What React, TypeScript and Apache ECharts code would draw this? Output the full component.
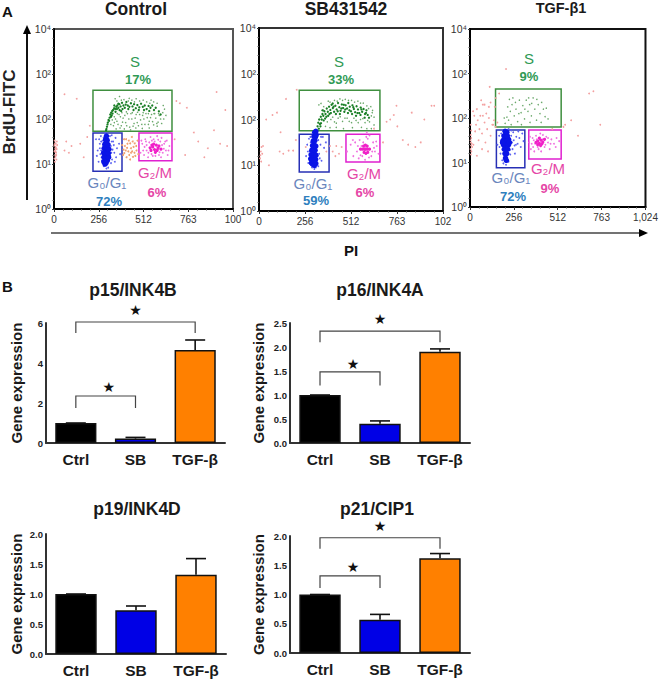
import React, { useEffect, useRef } from "react";
import * as echarts from "echarts";

type P = number[];

const flowXLabels: string[][] = [
  ["0", "256", "512", "763", "100"],
  ["0", "256", "512", "763", "102"],
  ["0", "256", "512", "763", "1,024"],
];
const flowYLabels = ["10⁰", "10¹", "10²", "10²", "10⁴"];
const flowTitles = ["Control", "SB431542", "TGF-β1"];

// gates as [x0, y0, x1, y1] in instrument units
const controlGates = { s: [223, 1.73, 675, 2.64], g0: [223, 0.84, 389, 1.69], g2: [486, 1.07, 675, 1.69] };
const sbGates = { s: [224, 1.755, 673, 2.64], g0: [224, 0.85, 390, 1.68], g2: [484, 1.07, 673, 1.68] };
const tgfGates = { s: [149, 1.8, 532, 2.65], g0: [154, 0.88, 320, 1.73], g2: [343, 1.08, 532, 1.73] };

const controlRed: P[] = [[5,1.3],[8,1.38],[12,1.25],[6,1.2],[10,1.45],[15,1.33],[4,1.52],[9,1.16],[18,1.42],[3,1.28],[14,1.1],[7,1.34],[2,1.42],[11,1.36],[6,1.46],[13,1.2],[3,1.12],[9,1.27],[16,1.5],[5,1.05],[60,1.3],[85,1.25],[100,1.4],[70,1.5],[170,1.15],[190,1.6],[205,1.85],[130,2.45],[60,2.55],[690,1.55],[720,2.35],[750,1.2],[800,1.7],[825,1.5],[880,1.35],[950,1.45],[980,2.2],[990,1.4],[930,2.6],[700,2.4],[760,2.25],[860,1.15],[915,1.75],[150,1.45]];
const controlOrange: P[] = [[400,1.55],[410,1.3],[420,1.45],[430,1.2],[440,1.35],[450,1.5],[460,1.25],[470,1.4],[415,1.15],[405,1.4],[445,1.6],[435,1.1],[455,1.38],[425,1.28],[465,1.18],[412,1.55],[395,1.2],[478,1.52],[390,1.42],[440,1.25],[428,1.52],[452,1.16],[402,1.24],[472,1.3],[418,1.36],[436,1.46],[462,1.46],[398,1.32],[447,1.28],[482,1.22]];
const controlGreenDark: P[] = [[298,1.75],[303,1.83],[308,1.92],[312,1.98],[318,2.03],[322,2.1],[327,2.14],[333,2.18],[338,2.2],[344,2.24],[350,2.22],[356,2.27],[362,2.3],[368,2.25],[374,2.33],[381,2.28],[389,2.36],[397,2.3],[405,2.25],[414,2.38],[422,2.3],[431,2.27],[440,2.35],[449,2.28],[458,2.33],[468,2.24],[477,2.31],[488,2.26],[498,2.34],[508,2.27],[519,2.3],[530,2.22],[541,2.29],[552,2.25],[562,2.3],[572,2.2],[582,2.25],[345,2.3],[360,2.22],[375,2.2],[335,2.12],[326,2.05],[392,2.22],[425,2.22],[455,2.2],[485,2.2],[515,2.2],[545,2.18],[600,2.17],[610,2.1],[300,1.78],[306,1.88],[315,1.96],[330,2.08],[352,2.16],[368,2.34],[384,2.18],[410,2.32]];
const controlGreenLight: P[] = [[345,2.05],[360,1.95],[372,2.1],[385,1.85],[395,2.02],[410,1.92],[420,2.12],[433,1.82],[445,2.0],[458,1.9],[470,2.1],[483,1.85],[495,1.98],[507,2.08],[520,1.88],[533,2.03],[545,1.95],[558,2.1],[570,1.87],[582,2.02],[595,1.93],[610,2.0],[622,2.14],[632,2.22],[640,2.08],[340,1.85],[355,1.78],[378,1.8],[402,1.78],[438,1.76],[468,1.8],[505,1.79],[545,1.8],[590,1.84],[350,2.45],[375,2.5],[400,2.43],[430,2.46],[470,2.45],[510,2.42],[555,2.42],[590,2.35],[625,2.3],[360,2.4],[445,2.42],[490,2.4],[530,2.38],[570,2.38],[325,1.88],[333,1.98],[352,2.0],[366,1.88],[380,2.05],[392,1.93],[405,2.08],[416,1.85],[428,2.0],[440,2.12],[452,1.84],[464,2.02],[476,1.92],[490,2.1],[502,1.88],[514,2.0],[526,2.12],[540,1.88],[552,2.03],[564,1.94],[576,2.12],[588,1.9],[602,2.08],[616,1.9],[628,2.0],[345,1.92],[362,2.12],[388,2.14],[414,2.16],[448,2.14],[478,2.15],[510,2.14],[540,2.12],[572,2.12],[598,2.12],[425,2.4],[385,2.42],[460,2.38],[548,2.35]];
const controlBlue: P[] = [[240,1.55],[250,1.3],[255,1.05],[262,1.45],[268,1.62],[272,1.15],[276,1.35],[280,1.52],[285,0.95],[288,1.6],[292,1.68],[320,1.62],[325,1.4],[332,1.1],[338,1.5],[345,1.25],[352,1.58],[360,1.35],[372,1.45],[245,1.18],[258,1.55],[265,1.22],[335,1.32],[348,1.05],[378,1.22],[310,0.92],[300,0.9],[295,1.66],[330,1.64],[355,1.15],[270,1.3],[262,1.35],[275,1.08],[278,1.22],[270,1.5],[328,1.25],[330,1.5],[342,1.42],[322,1.18],[326,1.02],[312,1.52],[316,1.44],[282,1.42],[284,1.58],[300,0.98]];
const controlBlueCore: P[] = [[285,1.05],[292,1.0],[298,1.03],[305,1.08],[286,1.15],[295,1.15],[304,1.17],[312,1.15],[284,1.25],[293,1.25],[302,1.27],[311,1.24],[288,1.35],[297,1.36],[306,1.35],[314,1.33],[291,1.44],[300,1.46],[309,1.43],[295,1.54],[304,1.53],[300,1.62]];
const controlMagenta: P[] = [[495,1.25],[505,1.45],[515,1.2],[522,1.55],[530,1.3],[538,1.15],[545,1.48],[552,1.6],[558,1.22],[565,1.18],[600,1.2],[608,1.5],[615,1.58],[622,1.25],[630,1.45],[640,1.3],[650,1.2],[660,1.4],[530,1.42],[518,1.38],[570,1.55],[590,1.62],[645,1.52],[612,1.15],[500,1.52],[540,1.25],[548,1.36],[526,1.5],[560,1.52],[580,1.18],[628,1.34],[636,1.5],[618,1.42],[596,1.54],[576,1.5],[510,1.3],[655,1.3],[604,1.26]];
const controlMagentaCore: P[] = [[555,1.3],[565,1.38],[575,1.32],[585,1.42],[595,1.35],[560,1.42],[580,1.26],[590,1.3],[570,1.44],[600,1.4],[550,1.36],[612,1.33]];

const sbRed: P[] = [[6,1.15],[10,1.3],[14,1.4],[18,1.25],[8,1.22],[22,1.42],[12,1.08],[55,1.0],[75,2.1],[100,2.15],[40,2.0],[120,1.72],[115,1.3],[135,1.25],[165,1.32],[190,1.32],[205,1.55],[150,2.45],[210,2.65],[260,1.4],[375,1.3],[410,1.3],[430,1.42],[445,1.25],[395,1.42],[425,1.2],[460,1.4],[690,1.5],[710,1.95],[730,2.0],[750,2.1],[770,1.85],[800,1.55],[830,1.45],[870,1.4],[900,1.5],[920,2.0],[960,2.3],[975,2.3],[850,2.15],[765,2.3],[640,1.8]];
const sbGreenDark: P[] = [[322,1.76],[326,1.85],[330,1.93],[335,2.0],[339,1.9],[344,2.06],[349,2.0],[353,2.12],[358,2.08],[364,2.18],[370,2.12],[377,2.24],[383,2.17],[390,2.28],[397,2.21],[404,2.32],[411,2.25],[418,2.17],[425,2.3],[432,2.22],[440,2.36],[447,2.27],[454,2.19],[461,2.33],[468,2.25],[475,2.17],[482,2.31],[490,2.24],[497,2.36],[505,2.28],[512,2.18],[520,2.31],[528,2.23],[535,2.16],[543,2.29],[551,2.22],[558,2.14],[566,2.26],[574,2.17],[582,2.23],[590,2.12],[598,2.2],[605,2.1],[612,2.04],[345,1.92],[360,1.98],[375,2.06],[392,2.12],[410,2.35],[428,2.12],[450,2.12],[472,2.32],[495,2.14],[518,2.12],[540,2.08],[565,2.1],[588,2.04],[333,1.8],[342,1.85],[355,2.2],[368,2.02],[385,2.08],[400,2.14],[415,2.28],[438,2.18],[458,2.24],[480,2.22],[503,2.2],[525,2.27],[548,2.14],[570,2.22],[595,2.14]];
const sbGreenLight: P[] = [[400,2.0],[420,1.95],[440,2.03],[465,1.96],[490,2.03],[515,1.93],[540,1.98],[565,2.0],[590,1.93],[615,1.95],[630,2.15],[640,2.05],[622,2.28],[600,2.3],[370,1.85],[395,1.82],[430,1.83],[470,1.8],[520,1.82],[570,1.83],[600,1.8],[625,1.8],[640,1.88],[360,2.28],[385,2.4],[420,2.42],[450,2.45],[480,2.44],[515,2.42],[550,2.4],[580,2.36],[350,2.2],[345,2.35],[333,2.32],[410,2.05],[430,1.92],[452,2.06],[478,2.03],[502,1.96],[528,2.03],[552,1.93],[578,2.02],[605,1.98],[625,2.08],[380,1.95],[395,2.38],[435,2.4],[465,2.42],[498,2.42],[532,2.38],[565,2.36],[610,2.24],[632,2.2]];
const sbBlue: P[] = [[262,1.2],[268,1.45],[274,1.05],[278,1.58],[282,1.3],[286,1.62],[290,1.0],[330,1.55],[335,1.25],[342,1.45],[348,1.1],[355,1.62],[362,1.38],[372,1.5],[272,1.3],[345,1.62],[322,1.0],[330,0.98],[295,0.95],[308,0.92],[316,0.95],[280,1.15],[288,1.5],[338,1.15]];
const sbBlueCore: P[] = [[292,1.05],[300,1.02],[308,1.0],[316,1.04],[288,1.14],[297,1.13],[306,1.14],[315,1.13],[290,1.23],[299,1.24],[308,1.25],[317,1.22],[294,1.33],[303,1.34],[312,1.33],[298,1.43],[307,1.44],[316,1.42],[302,1.53],[311,1.54],[306,1.63],[314,1.62],[310,1.72],[316,1.74],[318,1.66]];
const sbMagenta: P[] = [[490,1.3],[510,1.45],[525,1.2],[535,1.5],[545,1.3],[555,1.15],[560,1.55],[565,1.22],[570,1.42],[615,1.65],[625,1.2],[635,1.5],[645,1.3],[655,1.42],[665,1.25],[600,1.72],[590,1.12],[605,1.58],[580,1.5],[612,1.17],[640,1.38],[597,1.62],[522,1.55],[550,1.42],[575,1.2],[630,1.3],[652,1.52]];
const sbMagentaCore: P[] = [[565,1.35],[575,1.35],[585,1.35],[595,1.35],[605,1.35],[615,1.35],[582,1.42],[592,1.44],[602,1.42],[585,1.28],[595,1.26],[605,1.28],[590,1.35]];

const tgfRed: P[] = [[3,1.3],[5,1.45],[7,1.55],[4,1.62],[6,1.38],[8,1.25],[3,1.5],[10,1.42],[5,1.18],[7,1.72],[12,1.35],[4,1.85],[20,1.4],[30,1.7],[45,1.95],[60,2.05],[25,2.05],[35,1.85],[55,1.75],[70,1.65],[85,1.9],[95,2.1],[110,2.0],[75,2.3],[120,2.35],[140,1.95],[130,1.85],[100,1.75],[120,1.6],[90,1.45],[50,1.5],[18,2.15],[40,2.2],[65,2.4],[85,2.3],[150,2.45],[145,2.25],[150,1.8],[110,2.25],[135,1.85],[70,1.3],[40,1.15],[115,2.7],[170,2.55],[105,1.25],[210,3.1],[545,1.8],[590,1.95],[630,1.6],[695,2.55],[720,2.6],[760,1.85],[555,1.85],[480,1.75],[160,1.9],[75,2.05]];
const tgfGreen: P[] = [[205,1.88],[215,2.02],[225,1.95],[235,2.15],[245,2.3],[258,2.05],[268,2.2],[278,1.92],[288,2.4],[298,2.12],[308,2.28],[318,1.98],[328,2.4],[338,2.15],[348,2.3],[358,2.05],[368,2.45],[378,2.2],[388,1.95],[398,2.3],[408,2.1],[418,2.35],[428,2.2],[438,2.03],[230,2.42],[250,2.45],[265,2.35],[342,2.45],[390,2.42],[285,2.1],[320,2.2],[360,2.33],[415,1.9],[445,2.22],[240,1.85],[300,1.85],[220,2.25],[200,2.0],[350,1.9],[455,1.98]];
const tgfBlue: P[] = [[160,1.4],[170,1.6],[178,1.2],[182,1.65],[188,1.05],[240,1.6],[248,1.3],[255,1.5],[262,1.2],[270,1.58],[278,1.42],[288,1.55],[296,1.35],[305,1.65],[312,1.48],[235,1.18],[225,1.02],[195,0.98],[210,0.95],[190,1.72],[225,1.75],[252,1.68],[172,1.35],[268,1.4],[282,1.7],[245,1.45],[260,1.38],[232,1.28],[180,1.5],[240,1.72]];
const tgfBlueCore: P[] = [[195,1.4],[205,1.4],[215,1.42],[225,1.4],[195,1.5],[205,1.52],[215,1.5],[225,1.52],[198,1.6],[208,1.62],[218,1.6],[200,1.3],[210,1.3],[220,1.3],[204,1.2],[214,1.2],[207,1.1],[212,1.05],[230,1.45],[190,1.45],[205,1.7],[215,1.68]];
const tgfMagenta: P[] = [[345,1.45],[355,1.3],[365,1.55],[375,1.25],[385,1.6],[395,1.35],[405,1.52],[415,1.25],[425,1.62],[435,1.35],[445,1.58],[455,1.45],[465,1.3],[475,1.52],[490,1.42],[505,1.55],[360,1.42],[380,1.42],[372,1.5],[440,1.4],[520,1.48],[410,1.65],[350,1.58],[390,1.52],[400,1.3],[425,1.52],[455,1.55],[470,1.42],[500,1.35],[368,1.35]];
const tgfMagentaCore: P[] = [[385,1.45],[395,1.48],[405,1.43],[415,1.5],[425,1.46],[435,1.52],[405,1.55],[420,1.42],[395,1.4],[412,1.38]];

const barCategories = ["Ctrl", "SB", "TGF-β"];
const barColors = ["#000000", "#0000e6", "#ff8000"];
const p15Values = [1.0, 0.22, 4.65];
const p15Upper = [1.0, 0.28, 5.15];
const p15Ticks = ["0", "2", "4", "6"];
const p16Values = [1.0, 0.4, 1.9];
const p16Upper = [1.0, 0.46, 1.96];
const p16Ticks = ["0.0", "0.5", "1.0", "1.5", "2.0", "2.5"];
const p19Values = [1.0, 0.73, 1.32];
const p19Upper = [1.0, 0.8, 1.59];
const ticks2 = ["0.0", "0.5", "1.0", "1.5", "2.0"];
const p21Values = [1.0, 0.57, 1.62];
const p21Upper = [1.0, 0.66, 1.7];

// bracket rows: from category, to category, top, left foot, right foot, star value
const p15Brackets = [[0, 2, 6.05, 5.5, 5.5, 6.65], [0, 1, 2.35, 1.75, 1.75, 2.8]];
const p16Brackets = [[0, 2, 2.33, 2.1, 2.1, 2.58], [0, 1, 1.48, 1.2, 1.2, 1.65]];
const p19Brackets: number[][] = [];
const p21Brackets = [[0, 2, 1.97, 1.78, 1.78, 2.17], [0, 1, 1.32, 1.11, 1.11, 1.47]];

const GREEN = "#2f9a55";
const PCT_BLUE = "#2f7fbe";
const G_BLUE = "#6a86bd";
const PINK = "#e546a6";

const flowPanels = [
  { title: 0, rect: [54, 29, 179, 180], gates: controlGates, red: controlRed, orange: controlOrange, gd: controlGreenDark, gl: controlGreenLight, b: controlBlue, bc: controlBlueCore, m: controlMagenta, mc: controlMagentaCore, border: "#555555",
    notes: [["S", 135, 61, GREEN, 15, "normal"], ["17%", 138, 79, GREEN, 13, "bold"], ["G₀/G₁", 107, 182, G_BLUE, 15, "normal"], ["72%", 109, 201, PCT_BLUE, 13, "bold"], ["G₂/M", 155, 172, PINK, 15, "normal"], ["6%", 157, 192, PINK, 13, "bold"]] },
  { title: 1, rect: [259, 28, 184, 183], gates: sbGates, red: sbRed, orange: [], gd: sbGreenDark, gl: sbGreenLight, b: sbBlue, bc: sbBlueCore, m: sbMagenta, mc: sbMagentaCore, border: "#333333",
    notes: [["S", 339, 61, GREEN, 15, "normal"], ["33%", 341, 79, GREEN, 13, "bold"], ["G₀/G₁", 313, 183, G_BLUE, 15, "normal"], ["59%", 316, 200, PCT_BLUE, 13, "bold"], ["G₂/M", 364, 173, PINK, 15, "normal"], ["6%", 365, 192, PINK, 13, "bold"]] },
  { title: 2, rect: [470, 29, 179, 178], gates: tgfGates, red: tgfRed, orange: [], gd: [], gl: tgfGreen, b: tgfBlue, bc: tgfBlueCore, m: tgfMagenta, mc: tgfMagentaCore, border: "#111111",
    notes: [["S", 529, 58, GREEN, 15, "normal"], ["9%", 529, 76, GREEN, 13, "bold"], ["G₀/G₁", 511, 177, G_BLUE, 15, "normal"], ["72%", 513, 196, PCT_BLUE, 13, "bold"], ["G₂/M", 548, 168, PINK, 15, "normal"], ["9%", 550, 188, PINK, 13, "bold"]] },
];

const barPanels = [
  { name: "p15/INK4B", rect: [46, 323, 179, 120], max: 6, interval: 2, ticks: p15Ticks, values: p15Values, upper: p15Upper, brackets: p15Brackets, tx: 133, ty: 290, gap: 22 },
  { name: "p16/INK4A", rect: [290, 323, 180, 120], max: 2.5, interval: 0.5, ticks: p16Ticks, values: p16Values, upper: p16Upper, brackets: p16Brackets, tx: 380, ty: 290, gap: 24 },
  { name: "p19/INK4D", rect: [46, 534, 180, 120], max: 2, interval: 0.5, ticks: ticks2, values: p19Values, upper: p19Upper, brackets: p19Brackets, tx: 137, ty: 509, gap: 22 },
  { name: "p21/CIP1", rect: [290, 536, 180, 117], max: 2, interval: 0.5, ticks: ticks2, values: p21Values, upper: p21Upper, brackets: p21Brackets, tx: 377, ty: 509, gap: 24 },
];

const FONT = "'Liberation Sans', Arial, sans-serif";

function buildOption() {
  const grid: any[] = [], xAxis: any[] = [], yAxis: any[] = [], series: any[] = [], title: any[] = [], graphic: any[] = [];
  const addTitle = (text: string, x: number, y: number, size: number) =>
    title.push({ text, left: x, top: Math.max(0, y - size / 2 - 1), textAlign: "center", padding: 0, textStyle: { fontFamily: FONT, fontSize: size, fontWeight: "bold", color: "#1a1a1a", lineHeight: size + 1 } });

  flowPanels.forEach((p, i) => {
    const [left, top, width, height] = p.rect;
    grid.push({ left, top, width, height, show: true, borderColor: p.border, borderWidth: 2, backgroundColor: "#fff" });
    xAxis.push({
      type: "value", gridIndex: i, min: 0, max: 1024, interval: 256, splitLine: { show: false },
      axisLine: { show: true, onZero: false, lineStyle: { color: "#000", width: 2 } },
      axisTick: { length: 3, inside: false, lineStyle: { color: "#333" } }, minorTick: { show: true, splitNumber: 5, length: 1.5, lineStyle: { color: "#555" } },
      axisLabel: { margin: 5, fontFamily: FONT, fontSize: 10, color: "#333", formatter: (v: number) => flowXLabels[i][Math.round(v / 256)] },
    });
    yAxis.push({
      type: "value", gridIndex: i, min: 0, max: 4, interval: 1, splitLine: { show: false },
      axisLine: { show: true, onZero: false, lineStyle: { color: "#000", width: 2 } },
      axisTick: { length: 2, lineStyle: { color: "#333" } }, minorTick: { show: true, splitNumber: 5, length: 1.5, lineStyle: { color: "#555" } },
      axisLabel: { margin: 3, fontFamily: FONT, fontSize: 10.5, color: "#333", formatter: (v: number) => flowYLabels[Math.round(v)] },
    });
    const sc = (name: string, data: P[], color: string, size: number, opacity = 1) =>
      series.push({ type: "scatter", name, xAxisIndex: i, yAxisIndex: i, data, symbolSize: size, silent: true, itemStyle: { color, opacity } });
    const g = p.gates;
    const gate = (r: number[], color: string) => [{ coord: [r[0], r[1]], itemStyle: { color: "rgba(0,0,0,0)", borderColor: color, borderWidth: 1.5 } }, { coord: [r[2], r[3]] }];
    series.push({ type: "scatter", name: "gates", xAxisIndex: i, yAxisIndex: i, data: [], silent: true,
      markArea: { silent: true, data: [gate(g.s, "#3f8f3f"), gate(g.g0, "#2730b5"), gate(g.g2, "#e020d0")] } });
    sc("red", p.red, "#f3a0a0", 1.8);
    sc("orange", p.orange, "#f0a070", 2);
    sc("greenLight", p.gl, "#6aa86a", 1.5);
    sc("greenDark", p.gd, "#1a7f26", 2.3);
    sc("blue", p.b, "#5a60f0", 1.8);
    sc("blueCore", p.bc, "#0a14e6", 5.5);
    sc("magenta", p.m, "#f070e0", 1.8);
    sc("magentaCore", p.mc, "#f020c8", 3.2);
    addTitle(flowTitles[p.title], [136, 346, 561][i], 8, i === 2 ? 14.5 : 17.5);
    p.notes.forEach((n: any) =>
      graphic.push({ type: "text", x: n[1], y: n[2], style: { text: n[0], fill: n[3], fontFamily: FONT, fontSize: n[4], fontWeight: n[5], textAlign: "center", textVerticalAlign: "middle" } })
    );
  });

  barPanels.forEach((p, k) => {
    const i = k + flowPanels.length;
    const [left, top, width, height] = p.rect;
    grid.push({ left, top, width, height });
    xAxis.push({
      type: "category", gridIndex: i, data: barCategories, axisLine: { lineStyle: { color: "#333", width: 2 } },
      axisTick: { alignWithLabel: true, length: 4, lineStyle: { color: "#333", width: 1.5 } },
      axisLabel: { margin: 8, fontFamily: FONT, fontSize: 15.5, fontWeight: "bold", color: "#1a1a1a" },
    });
    yAxis.push({
      type: "value", gridIndex: i, min: 0, max: p.max, interval: p.interval, splitLine: { show: false },
      name: "Gene expression", nameLocation: "middle", nameGap: p.gap, nameRotate: 90,
      nameTextStyle: { fontFamily: FONT, fontSize: 15, fontWeight: "bold", color: "#1a1a1a" },
      axisLine: { show: true, lineStyle: { color: "#333", width: 2 } },
      axisTick: { length: 3, lineStyle: { color: "#333", width: 1.5 } },
      axisLabel: { margin: 3, fontFamily: FONT, fontSize: 9.5, fontWeight: "bold", color: "#222", formatter: (v: number) => p.ticks[Math.round(v / p.interval)] },
    });
    series.push({
      type: "bar", name: p.name, xAxisIndex: i, yAxisIndex: i, barWidth: "69%", silent: true,
      data: p.values.map((v, j) => ({ value: v, itemStyle: { color: barColors[j], borderColor: "#111", borderWidth: 1.5 } })),
    });
    series.push({
      type: "custom", name: p.name + " error", xAxisIndex: i, yAxisIndex: i, silent: true, z: 3,
      data: p.upper.map((u, j) => [j, u, p.values[j]]), encode: { x: 0, y: 1 },
      renderItem: (_: any, api: any) => {
        const t = api.coord([api.value(0), api.value(1)]);
        const b = api.coord([api.value(0), api.value(2)]);
        const st = { stroke: "#111", lineWidth: 1.6 };
        return { type: "group", children: [
          { type: "line", shape: { x1: t[0], y1: t[1], x2: b[0], y2: b[1] }, style: st },
          { type: "line", shape: { x1: t[0] - 10, y1: t[1], x2: t[0] + 10, y2: t[1] }, style: st },
        ] };
      },
    });
    if (p.brackets.length) series.push({
      type: "custom", name: p.name + " significance", xAxisIndex: i, yAxisIndex: i, silent: true, z: 4,
      data: p.brackets, encode: { x: 0, y: 2 },
      renderItem: (_: any, api: any) => {
        const to = api.value(1);
        const a = api.coord([api.value(0), api.value(3)]);
        const b = api.coord([api.value(0), api.value(2)]);
        const c = api.coord([to, api.value(2)]);
        const d = api.coord([to, api.value(4)]);
        const s = api.coord([to, api.value(5)]);
        const sx = (a[0] + d[0]) / 2 + (to === 1 ? 3 : 0);
        return { type: "group", children: [
          { type: "polyline", shape: { points: [a, b, c, d] }, style: { stroke: "#444", lineWidth: 1.2, fill: "none" } },
          { type: "text", style: { x: sx, y: s[1], text: "★", fill: "#111", fontSize: 14, fontFamily: "'DejaVu Sans'", textAlign: "center", textVerticalAlign: "middle" } },
        ] };
      },
    });
    addTitle(p.name, p.tx, p.ty, 17.5);
  });

  graphic.push(
    { type: "text", x: 2, y: 11, style: { text: "A", fill: "#111", fontFamily: FONT, fontSize: 15, fontWeight: "bold", textVerticalAlign: "middle" } },
    { type: "text", x: 2, y: 286, style: { text: "B", fill: "#111", fontFamily: FONT, fontSize: 15, fontWeight: "bold", textVerticalAlign: "middle" } },
    { type: "text", x: 9, y: 112, rotation: Math.PI / 2, style: { text: "BrdU-FITC", fill: "#222", fontFamily: FONT, fontSize: 17, fontWeight: "bold", textAlign: "center", textVerticalAlign: "middle" } },
    { type: "text", x: 351, y: 250, style: { text: "PI", fill: "#111", fontFamily: FONT, fontSize: 15, fontWeight: "bold", textAlign: "center", textVerticalAlign: "middle" } },
    { type: "line", shape: { x1: 27, y1: 200, x2: 27, y2: 30 }, style: { stroke: "#111", lineWidth: 2 } },
    { type: "polygon", shape: { points: [[27, 25], [23, 34], [31, 34]] }, style: { fill: "#000" } },
    { type: "line", shape: { x1: 51, y1: 233, x2: 640, y2: 233 }, style: { stroke: "#444", lineWidth: 1.5 } },
    { type: "polygon", shape: { points: [[648, 233], [639, 229], [639, 237]] }, style: { fill: "#000" } }
  );

  return { animation: false, backgroundColor: "#fff", title, grid, xAxis, yAxis, series, graphic, tooltip: { show: false } };
}

export default function App() {
  const ref = useRef<HTMLDivElement>(null);
  useEffect(() => {
    const chart = echarts.init(ref.current!, undefined, { renderer: "svg" });
    chart.setOption(buildOption() as any);
    return () => chart.dispose();
  }, []);
  return <div ref={ref} style={{ position: "absolute", left: 0, top: 0, width: 661, height: 681 }} />;
}
